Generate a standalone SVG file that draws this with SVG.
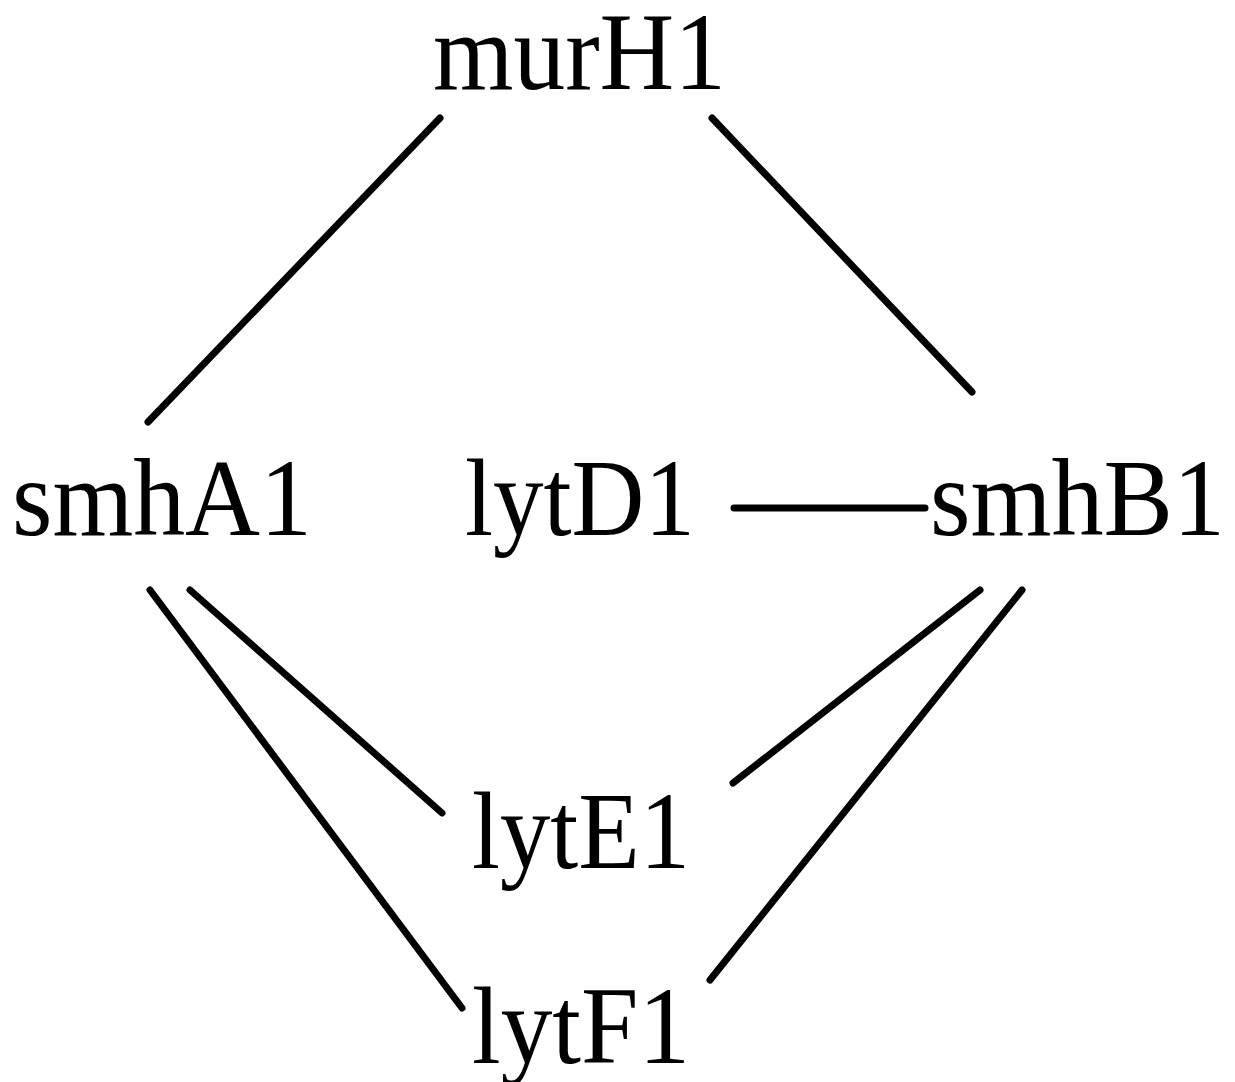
<svg xmlns="http://www.w3.org/2000/svg" width="1235" height="1082" viewBox="0 0 1235 1082">
  <style>
    .lbl { font-family: "Liberation Serif", "Times New Roman", serif; font-size: 110px; fill: #000; }
    .edge { stroke: #000; stroke-width: 7; stroke-linecap: round; fill: none; }
  </style>
  <rect width="1235" height="1082" fill="#fff"/>
  <g id="connectors">
    <line class="edge" x1="440" y1="118" x2="148" y2="422"/>
    <line class="edge" x1="712" y1="118" x2="972" y2="392"/>
    <line class="edge" x1="734" y1="508" x2="925" y2="508"/>
    <line class="edge" x1="190" y1="590" x2="442" y2="813"/>
    <line class="edge" x1="150" y1="590" x2="462" y2="1008"/>
    <line class="edge" x1="980" y1="590" x2="733" y2="783"/>
    <line class="edge" x1="1022" y1="590" x2="710" y2="980"/>
  </g>
  <g id="murH1"><text class="lbl" x="433" y="89" textLength="293" lengthAdjust="spacingAndGlyphs">murH1</text></g>
  <g id="smhA1"><text class="lbl" x="12" y="535" textLength="300" lengthAdjust="spacingAndGlyphs">smhA1</text></g>
  <g id="lytD1"><text class="lbl" x="465" y="535" textLength="230" lengthAdjust="spacingAndGlyphs">lytD1</text></g>
  <g id="smhB1"><text class="lbl" x="930" y="535" textLength="295" lengthAdjust="spacingAndGlyphs">smhB1</text></g>
  <g id="lytE1"><text class="lbl" x="472" y="868" textLength="218" lengthAdjust="spacingAndGlyphs">lytE1</text></g>
  <g id="lytF1"><text class="lbl" x="472" y="1063" textLength="218" lengthAdjust="spacingAndGlyphs">lytF1</text></g>
</svg>
